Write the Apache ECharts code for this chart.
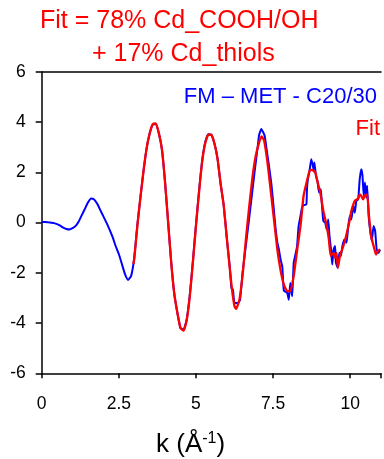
<!DOCTYPE html>
<html>
<head>
<meta charset="utf-8">
<script src="https://cdn.jsdelivr.net/npm/echarts@6/dist/echarts.min.js"></script>
<style>
html, body { margin: 0; padding: 0; background: #fff; }
#chart { width: 384px; height: 459px; }
</style>
</head>
<body>
<div id="chart"></div>
<script>
// Measured EXAFS spectrum, k^3-weighted chi(k)
const kData = [
  0.0, 0.1, 0.2, 0.3, 0.4, 0.5, 0.6, 0.7, 0.8, 0.9,
  1.0, 1.1, 1.2, 1.3, 1.4, 1.5, 1.6, 1.7, 1.8, 1.9,
  2.0, 2.1, 2.2, 2.3, 2.4, 2.5, 2.6, 2.7, 2.8, 2.9,
  3.0, 3.1, 3.2, 3.3, 3.4, 3.5, 3.6, 3.7, 3.8, 3.9,
  4.0, 4.1, 4.2, 4.3, 4.4, 4.5, 4.6, 4.7, 4.8, 4.9,
  5.0, 5.1, 5.2, 5.3, 5.4, 5.5, 5.6, 5.7, 5.8, 5.9,
  6.0, 6.1, 6.15, 6.2, 6.25, 6.36, 6.43, 6.52, 6.6, 6.7,
  6.8, 6.9, 7.0, 7.05, 7.12, 7.18, 7.23, 7.3, 7.37, 7.45,
  7.52, 7.58, 7.64, 7.69, 7.75, 7.8, 7.85, 7.96, 8.01, 8.06,
  8.12, 8.17, 8.23, 8.28, 8.33, 8.39, 8.44, 8.49, 8.58, 8.6,
  8.63, 8.69, 8.74, 8.78, 8.81, 8.84, 8.89, 8.94, 8.99, 9.05,
  9.08, 9.13, 9.19, 9.24, 9.29, 9.33, 9.38, 9.42, 9.46, 9.51,
  9.54, 9.6, 9.65, 9.7, 9.75, 9.81, 9.88, 9.94, 9.99, 10.04,
  10.1, 10.15, 10.2, 10.26, 10.31, 10.36, 10.4, 10.44, 10.48, 10.52,
  10.55, 10.6, 10.65, 10.7, 10.76, 10.81, 10.86, 10.92, 10.97
];
const chiData = [
  0.03, 0.03, 0.02, 0.00, -0.02, -0.06, -0.12, -0.20, -0.25, -0.27,
  -0.22, -0.13, 0.05, 0.30, 0.55, 0.80, 0.96, 0.92, 0.75, 0.50,
  0.25, 0.00, -0.28, -0.58, -0.94, -1.25, -1.65, -2.05, -2.28, -2.12,
  -1.40, -0.10, 1.00, 2.05, 2.95, 3.55, 3.90, 3.92, 3.55, 2.90,
  1.60, 0.00, -1.60, -2.85, -3.60, -4.20, -4.25, -3.85, -2.90, -1.55,
  -0.10, 1.25, 2.45, 3.20, 3.52, 3.50, 3.15, 2.55, 1.55, 0.70,
  -0.60, -1.80, -2.60, -2.67, -3.20, -3.20, -3.07, -1.90, -1.10, -0.10,
  0.95, 2.00, 3.00, 3.50, 3.73, 3.60, 3.45, 2.85, 2.25, 1.50,
  0.60, -0.20, -0.80, -1.07, -1.50, -1.75, -2.70, -2.80, -3.07, -2.40,
  -2.93, -1.60, -1.25, -0.93, -0.13, 0.27, 0.60, 0.69, 0.73, 1.33,
  1.73, 2.13, 2.53, 2.33, 2.13, 2.40, 1.87, 1.67, 1.20, 1.33,
  0.80, 0.07, 0.00, -0.27, 0.13, -0.53, -1.07, -1.67, -1.07, -0.93,
  -1.60, -1.80, -1.20, -1.33, -0.93, -0.67, -0.80, -0.13, 0.27, 0.13,
  0.67, 0.40, 0.87, 0.93, 1.73, 2.13, 1.87, 1.07, 1.60, 1.00,
  1.47, 0.27, -0.33, -0.73, -0.13, -0.33, -1.07, -1.20, -1.07
];

// Linear-combination fit (78% Cd_COOH/OH + 17% Cd_thiols)
const kFit = [
  2.97, 3.0, 3.1, 3.2, 3.3, 3.4, 3.5, 3.6, 3.7, 3.8, 3.9,
  4.0, 4.1, 4.2, 4.3, 4.4, 4.5, 4.6, 4.7, 4.8, 4.9,
  5.0, 5.1, 5.2, 5.3, 5.4, 5.5, 5.6, 5.7, 5.8, 5.9,
  6.0, 6.09, 6.17, 6.25, 6.3, 6.41, 6.52, 6.62, 6.73, 6.84,
  6.94, 7.05, 7.13, 7.21, 7.32, 7.42, 7.53, 7.64, 7.74, 7.85,
  7.96, 8.06, 8.17, 8.28, 8.39, 8.49, 8.6, 8.69, 8.76, 8.87,
  8.92, 9.03, 9.13, 9.24, 9.31, 9.37, 9.46, 9.51, 9.56, 9.6,
  9.67, 9.78, 9.88, 9.99, 10.04, 10.15, 10.26, 10.31, 10.36, 10.42,
  10.47, 10.55, 10.61, 10.68, 10.79, 10.84, 10.9, 10.97
];
const chiFit = [
  -1.65, -1.45, -0.15, 1.00, 2.05, 2.95, 3.55, 3.92, 3.95, 3.55, 2.90,
  1.60, 0.00, -1.60, -2.85, -3.60, -4.20, -4.30, -3.90, -2.95, -1.60,
  -0.15, 1.20, 2.40, 3.15, 3.50, 3.50, 3.15, 2.55, 1.55, 0.70,
  -0.60, -1.73, -2.67, -3.33, -3.44, -3.07, -2.00, -0.67, 0.67, 1.87,
  2.67, 3.20, 3.44, 3.27, 2.40, 1.33, 0.13, -1.07, -1.87, -2.47,
  -2.73, -2.73, -2.13, -1.10, -0.13, 1.07, 1.67, 2.07, 2.10, 2.00,
  1.73, 1.20, 0.47, -0.13, -0.67, -1.33, -1.20, -1.40, -1.20, -1.80,
  -1.33, -0.93, -0.47, 0.13, 0.47, 0.87, 0.96, 1.13, 1.07, 0.93,
  1.07, 1.13, 0.27, -0.53, -1.07, -1.27, -1.13, -1.07
];

const xTicks = [0, 2.5, 5, 7.5, 10];
const yTicks = [-6, -4, -2, 0, 2, 4, 6];

const chart = echarts.init(document.getElementById('chart'), null, { renderer: 'canvas' });
const font = 'Arial, "Liberation Sans", Helvetica, sans-serif';

chart.setOption({
  animation: false,
  backgroundColor: '#fff',
  textStyle: { fontFamily: font },
  grid: { left: 41.7, top: 72, right: 0, bottom: 85.7, containLabel: false },
  xAxis: [{
    type: 'value',
    min: 0, max: 11, interval: 2.5,
    position: 'bottom',
    axisLine: { show: true, onZero: false, lineStyle: { color: '#000', width: 1.5 } },
    axisTick: { show: true, length: 5, lineStyle: { color: '#000', width: 1.5 } },
    splitLine: { show: false },
    axisLabel: {
      color: '#000', fontSize: 17.5, fontFamily: font, margin: 22,
      formatter: v => xTicks.includes(v) ? String(v) : ''
    }
  }, {
    type: 'value',
    min: 0, max: 11,
    position: 'top',
    axisLine: { show: true, onZero: false, lineStyle: { color: '#000', width: 1.5 } },
    axisTick: { show: false },
    axisLabel: { show: false },
    splitLine: { show: false }
  }],
  yAxis: {
    type: 'value',
    min: -6, max: 6, interval: 2,
    axisLine: { show: true, onZero: false, lineStyle: { color: '#000', width: 1.5 } },
    axisTick: { show: true, length: 6, lineStyle: { color: '#000', width: 1.5 } },
    splitLine: { show: false },
    axisLabel: {
      color: '#000', fontSize: 17.5, fontFamily: font, margin: 16,
      formatter: v => yTicks.includes(v) ? String(v) : ''
    }
  },
  graphic: [
    { type: 'text', left: 40, top: 9, style: { text: 'Fit = 78% Cd_COOH/OH', fill: '#ff0000', font: '25px ' + font } },
    { type: 'text', left: 92, top: 42, style: { text: '+ 17% Cd_thiols', fill: '#ff0000', font: '25px ' + font } },
    { type: 'text', right: 7, top: 86, style: { text: 'FM – MET - C20/30', fill: '#0000ff', font: '22px ' + font } },
    { type: 'text', right: 4, top: 118, style: { text: 'Fit', fill: '#ff0000', font: '22px ' + font } },
    {
      type: 'text', left: 156, top: 431,
      style: {
        text: 'k (Å{sup|-1})',
        fill: '#000',
        font: '26px ' + font,
        rich: { sup: { fontSize: 16, fontFamily: font, fill: '#000', verticalAlign: 'top', padding: [0, 0, 11, 0] } }
      }
    }
  ],
  series: [{
    type: 'line',
    name: 'FM – MET - C20/30',
    data: kData.map((k, i) => [k, chiData[i]]),
    showSymbol: false,
    smooth: 0.15,
    lineStyle: { color: '#0000ff', width: 2 },
    z: 2
  }, {
    type: 'line',
    name: 'Fit',
    data: kFit.map((k, i) => [k, chiFit[i]]),
    showSymbol: false,
    smooth: 0.15,
    lineStyle: { color: '#ff0000', width: 2.3 },
    z: 3
  }]
});
</script>
</body>
</html>
